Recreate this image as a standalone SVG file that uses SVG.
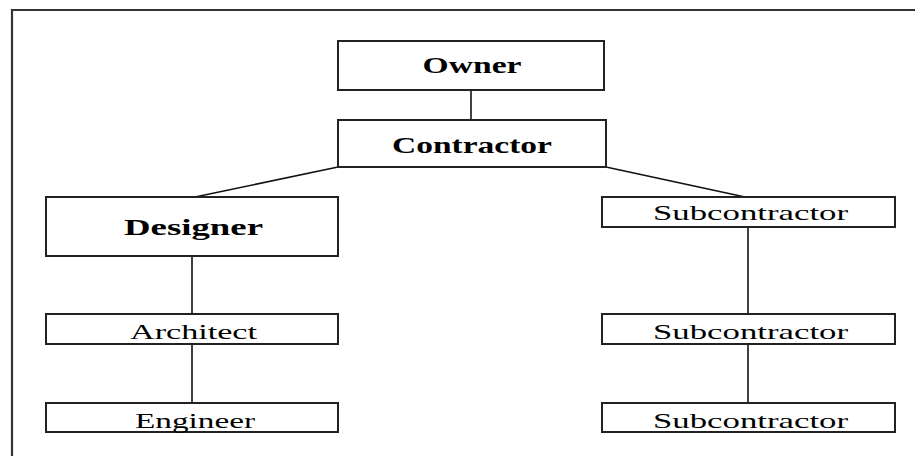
<svg xmlns="http://www.w3.org/2000/svg" width="915" height="456" viewBox="0 0 915 456">
<style>
.box{fill:#fff;stroke:#222;stroke-width:2}
.ln{stroke:#111;stroke-width:1.6;fill:none}
.frame{stroke:#333;stroke-width:2.2;fill:none}
.b{font-family:"Liberation Serif","Times New Roman",serif;font-weight:bold;font-size:23px;fill:#000}
.r{font-family:"Liberation Serif","Times New Roman",serif;font-size:22px;fill:#000}
</style>
<rect width="915" height="456" fill="#fff"/>
<path class="frame" d="M12,460 V10 H920"/>
<g id="connectors">
<line class="ln" x1="471" y1="90" x2="471" y2="120"/>
<line class="ln" x1="338" y1="167" x2="195" y2="197"/>
<line class="ln" x1="606" y1="167" x2="745" y2="197"/>
<line class="ln" x1="192" y1="256" x2="192" y2="314"/>
<line class="ln" x1="192" y1="344" x2="192" y2="403"/>
<line class="ln" x1="748" y1="227" x2="748" y2="314"/>
<line class="ln" x1="748" y1="344" x2="748" y2="403"/>
</g>
<g id="owner"><rect class="box" x="338" y="41" width="266" height="49"/><text class="b" x="472" y="73" text-anchor="middle" textLength="99" lengthAdjust="spacingAndGlyphs">Owner</text></g>
<g id="contractor"><rect class="box" x="338" y="120" width="268" height="47"/><text class="b" x="472" y="153" text-anchor="middle" textLength="160" lengthAdjust="spacingAndGlyphs">Contractor</text></g>
<g id="designer"><rect class="box" x="46" y="197" width="292" height="59"/><text class="b" x="193.5" y="235" text-anchor="middle" textLength="139" lengthAdjust="spacingAndGlyphs">Designer</text></g>
<g id="architect"><rect class="box" x="46" y="314" width="292" height="30"/><text class="r" x="193.5" y="339" text-anchor="middle" textLength="127" lengthAdjust="spacingAndGlyphs">Architect</text></g>
<g id="engineer"><rect class="box" x="46" y="403" width="292" height="29"/><text class="r" x="195" y="428" text-anchor="middle" textLength="120" lengthAdjust="spacingAndGlyphs">Engineer</text></g>
<g id="subcontractor1"><rect class="box" x="602" y="197" width="293" height="30"/><text class="r" x="750.5" y="220" text-anchor="middle" textLength="195" lengthAdjust="spacingAndGlyphs">Subcontractor</text></g>
<g id="subcontractor2"><rect class="box" x="602" y="314" width="293" height="30"/><text class="r" x="750.5" y="339" text-anchor="middle" textLength="195" lengthAdjust="spacingAndGlyphs">Subcontractor</text></g>
<g id="subcontractor3"><rect class="box" x="602" y="403" width="293" height="29"/><text class="r" x="750.5" y="428" text-anchor="middle" textLength="195" lengthAdjust="spacingAndGlyphs">Subcontractor</text></g>
</svg>
